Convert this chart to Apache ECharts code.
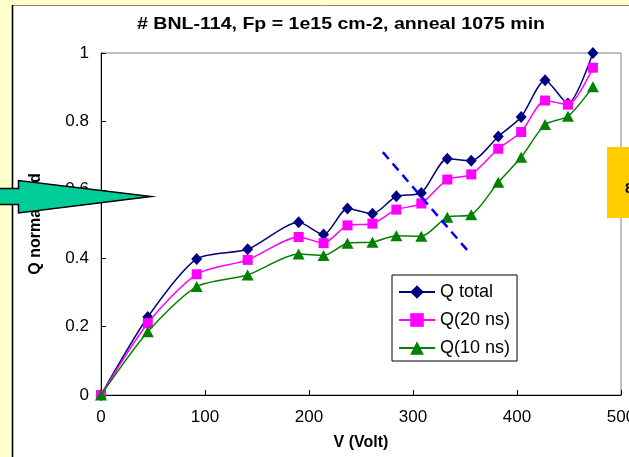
<!DOCTYPE html>
<html>
<head>
<meta charset="utf-8">
<script src="https://cdn.jsdelivr.net/npm/echarts@6/dist/echarts.min.js"></script>
<style>
html,body{margin:0;padding:0;background:#FFFFCC;}
#chart{width:629px;height:457px;}
</style>
</head>
<body>
<div id="chart"></div>
<script>
// Data
var voltage = [0, 45, 92, 141, 190, 214, 237, 261, 284, 308, 333, 356, 382, 404, 427, 449, 473];
var qTotal  = [0, 0.228, 0.398, 0.426, 0.505, 0.469, 0.545, 0.530, 0.581, 0.591, 0.691, 0.685, 0.756, 0.813, 0.920, 0.852, 1.000];
var q20ns   = [0, 0.210, 0.353, 0.395, 0.462, 0.444, 0.496, 0.501, 0.542, 0.560, 0.630, 0.645, 0.720, 0.769, 0.861, 0.849, 0.957];
var q10ns   = [0, 0.185, 0.317, 0.351, 0.412, 0.408, 0.444, 0.447, 0.466, 0.464, 0.520, 0.527, 0.622, 0.695, 0.791, 0.815, 0.901];
var seriesNames = ['Q total', 'Q(20 ns)', 'Q(10 ns)'];
var dashLineX = [271, 354];
var dashLineY = [0.710, 0.417];
var titleText = '# BNL-114, Fp = 1e15 cm-2, anneal 1075 min';
var xAxisTitle = 'V (Volt)';
var yAxisTitle = 'Q normalized';

function pairs(xs, ys) { return xs.map(function (x, i) { return [x, ys[i]]; }); }

var FONT = 'Liberation Sans, Arial, sans-serif';
var chart = echarts.init(document.getElementById('chart'), null, {renderer: 'canvas'});
chart.setOption({
  backgroundColor: '#FFFFCC',
  animation: false,
  textStyle: {fontFamily: FONT},
  grid: {
    left: 101, right: 8, top: 53, bottom: 62,
    containLabel: false, outerBoundsMode: 'none',
    show: true, backgroundColor: '#fff', borderColor: '#808080', borderWidth: 1
  },
  legend: {
    orient: 'vertical',
    left: 392, top: 275,
    padding: [8, 7, 4, 6],
    itemWidth: 36, itemHeight: 17, itemGap: 10,
    itemTextGap: 7,
    backgroundColor: '#fff',
    borderColor: '#000', borderWidth: 1, borderRadius: 0,
    textStyle: {fontFamily: FONT, fontSize: 18, color: '#000'},
    data: seriesNames
  },
  xAxis: {
    type: 'value', min: 0, max: 500, interval: 100,
    name: xAxisTitle, nameLocation: 'middle', nameGap: 40,
    nameTextStyle: {fontFamily: FONT, fontSize: 16, fontWeight: 'bold', color: '#000'},
    axisLine: {show: true, lineStyle: {color: '#000', width: 1}},
    axisTick: {show: true, inside: true, length: 5, lineStyle: {color: '#000'}},
    axisLabel: {fontFamily: FONT, fontSize: 17, color: '#000', margin: 14},
    splitLine: {show: false}
  },
  yAxis: {
    type: 'value', min: 0, max: 1, interval: 0.2,
    name: yAxisTitle, nameLocation: 'middle', nameGap: 57,
    nameTextStyle: {fontFamily: FONT, fontSize: 16, fontWeight: 'bold', color: '#000'},
    axisLine: {show: true, lineStyle: {color: '#000', width: 1}},
    axisTick: {show: true, inside: true, length: 5, lineStyle: {color: '#000'}},
    axisLabel: {fontFamily: FONT, fontSize: 17, color: '#000', margin: 12},
    splitLine: {show: false}
  },
  series: [
    {
      name: seriesNames[0], type: 'line', data: pairs(voltage, qTotal),
      smooth: 0.25, symbol: 'diamond', symbolSize: [11, 12],
      itemStyle: {color: '#000080'}, lineStyle: {color: '#000080', width: 1.5}, z: 2
    },
    {
      name: seriesNames[1], type: 'line', data: pairs(voltage, q20ns),
      smooth: 0.25, symbol: 'rect', symbolSize: 10,
      itemStyle: {color: '#FF00FF'}, lineStyle: {color: '#FF00FF', width: 1.5}, z: 3
    },
    {
      name: seriesNames[2], type: 'line', data: pairs(voltage, q10ns),
      smooth: 0.25, symbol: 'triangle', symbolSize: [12, 11],
      itemStyle: {color: '#008000'}, lineStyle: {color: '#008000', width: 1.5}, z: 4
    },
    {
      name: 'annotation', type: 'line', data: pairs(dashLineX, dashLineY),
      symbol: 'none', silent: true, z: 6,
      lineStyle: {color: '#0000FF', width: 2.5, type: [9, 6]}
    }
  ],
  graphic: [
    {type: 'rect', z: -10, shape: {x: 12.5, y: 5.5, width: 630, height: 460},
     style: {fill: '#fff', stroke: null}},
    {type: 'line', z: -9, shape: {x1: 12.5, y1: 5.5, x2: 629, y2: 5.5},
     style: {stroke: '#8a8a70', lineWidth: 1}},
    {type: 'line', z: -9, shape: {x1: 12.5, y1: 5, x2: 12.5, y2: 457},
     style: {stroke: '#000', lineWidth: 1.6}},
    {type: 'text', z: 50, x: 341, y: 24, scaleX: 1.15, originX: 0, originY: 0,
     style: {text: titleText, fill: '#000', font: 'bold 17px Liberation Sans, Arial, sans-serif',
             align: 'center', verticalAlign: 'middle'}},
    {type: 'polygon', z: 100,
     shape: {points: [[-5, 188.5], [18.5, 188.5], [18.5, 180.5], [151, 196.5], [18.5, 213], [18.5, 204.5], [-5, 204.5]]},
     style: {fill: '#00CC99', stroke: '#000', lineWidth: 1.5}},
    {type: 'rect', z: 100, shape: {x: 607, y: 147, width: 30, height: 71},
     style: {fill: '#FFCC00'}},
    {type: 'text', z: 101, x: 625, y: 189,
     style: {text: '8', fill: '#000', font: 'bold 15px Liberation Sans, Arial, sans-serif', verticalAlign: 'middle'}}
  ]
});
</script>
</body>
</html>
